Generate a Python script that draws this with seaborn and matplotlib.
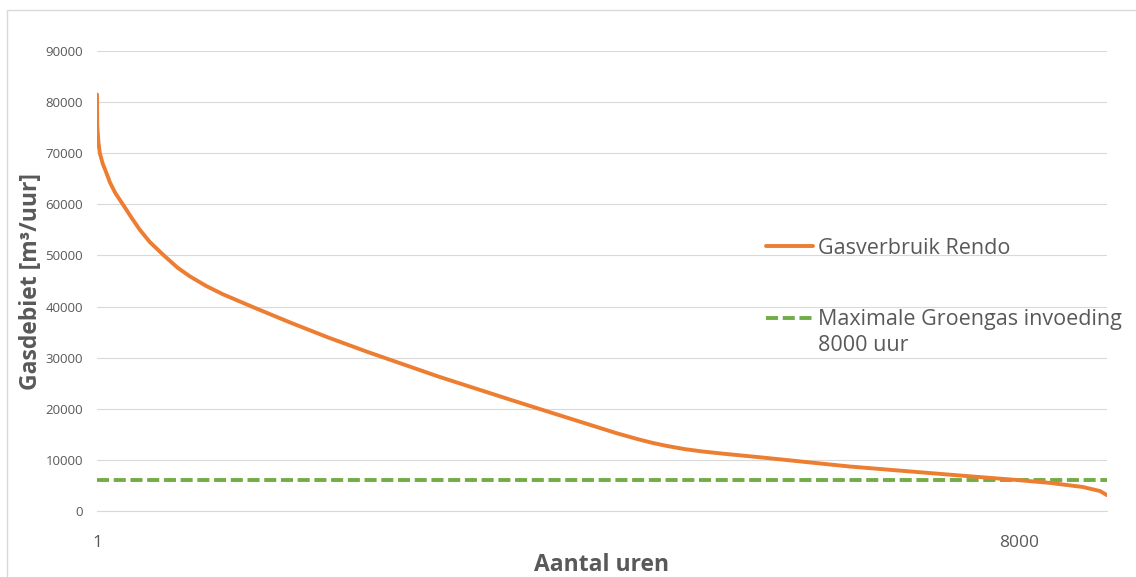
import matplotlib
matplotlib.use('Agg')
import matplotlib.pyplot as plt
from matplotlib.patches import Rectangle
from matplotlib.legend_handler import HandlerLine2D
import numpy as np
import pandas as pd
import seaborn as sns

# duration curve (hour rank -> gas flow m3/h)
hours = [1, 3, 14, 26, 50, 80, 113, 160, 225, 300, 373, 460, 581, 700, 807,
         950, 1093, 1353, 1674, 2000, 2350, 2963, 3582, 3890, 4510, 4700,
         4823, 4950, 5100, 5250, 5437, 5800, 6271, 6530, 6964, 7510, 7960,
         8265, 8550, 8700, 8760]
flow = [81500, 75500, 72000, 70000, 68000, 66300, 64300, 62200, 60000, 57400,
        55000, 52600, 50000, 47600, 45900, 44000, 42400, 39900, 36900, 34000,
        31100, 26300, 21800, 19600, 15200, 14000, 13300, 12700, 12100, 11650,
        11200, 10400, 9300, 8700, 7900, 6900, 6100, 5500, 4700, 3900, 3100]
groengas_max = 6100
series_labels = ['Gasverbruik Rendo', 'Maximale Groengas invoeding\n8000 uur']
y_ticks = list(range(0, 90001, 10000))
x_ticks = [1, 1000, 2000, 3000, 4000, 5000, 6000, 7000, 8000]
x_tick_labels = ['1', '', '', '', '', '', '', '', '8000']


class HandlerLineUp(HandlerLine2D):
    # legend line drawn next to the first line of a two-line label
    def __init__(self, shift, **kw):
        super().__init__(**kw)
        self.shift = shift

    def create_artists(self, legend, orig_handle, xdescent, ydescent, width, height, fontsize, trans):
        arts = super().create_artists(legend, orig_handle, xdescent, ydescent, width, height, fontsize, trans)
        for a in arts:
            a.set_ydata(np.asarray(a.get_ydata()) + self.shift * fontsize)
        return arts


sns.set_style('white')
plt.rcParams['font.family'] = ['Open Sans', 'DejaVu Sans']

df = pd.DataFrame({'Uur': hours, 'Debiet': flow})
ref = pd.DataFrame({'Uur': [1, 8760], 'Debiet': [groengas_max, groengas_max]})

fig = plt.figure(figsize=(11.36, 5.77), dpi=100)
ax = fig.add_axes([97 / 1136, 66 / 577, 1010 / 1136, 460 / 577])

sns.lineplot(data=ref, x='Uur', y='Debiet', ax=ax, color='#70AD47', linewidth=2.8,
             label=series_labels[1])
ax.lines[-1].set_dashes((3.1, 1.2))
sns.lineplot(data=df, x='Uur', y='Debiet', ax=ax, color='#ED7D31', linewidth=2.8,
             label=series_labels[0], sort=False, estimator=None)

ax.set_xlim(1, 8760)
ax.set_ylim(0, 90000)
ax.set_yticks(y_ticks)
ax.set_yticklabels([str(v) for v in y_ticks], fontsize=9.5, color='#595959')
ax.set_xticks(x_ticks)
ax.set_xticklabels(x_tick_labels, fontsize=12.5, color='#595959')
ax.tick_params(axis='x', direction='in', length=4.5, width=0.8, color='#D9D9D9', pad=17)
ax.tick_params(axis='y', length=0, pad=10)
ax.grid(axis='y', color='#D9D9D9', linewidth=0.8)
ax.set_axisbelow(True)
for s in ['top', 'right', 'left']:
    ax.spines[s].set_visible(False)
ax.spines['bottom'].set_color('#D9D9D9')
ax.spines['bottom'].set_linewidth(0.8)

ax.set_xlabel('Aantal uren', fontsize=16.5, fontweight='bold', color='#595959', labelpad=2)
ax.set_ylabel('Gasdebiet [m³/uur]', fontsize=16.5, fontweight='bold', color='#595959', labelpad=2)

handles, labels = ax.get_legend_handles_labels()
leg = ax.legend(handles[::-1], labels[::-1], loc='upper left',
                bbox_to_anchor=((766 - 97) / 1010, (511 - 238) / 460),
                frameon=False, fontsize=15.5, handlelength=2.2, handletextpad=0.2,
                labelspacing=2.3, borderpad=0, borderaxespad=0,
                handler_map={handles[0]: HandlerLineUp(0.7)})
for t in leg.get_texts():
    t.set_color('#595959')
    t.set_linespacing(1.35)

# light outer chart border like the office chart area
fig.patches.append(Rectangle((7 / 1136, -0.1), 1.2, (577 - 10) / 577 + 0.1,
                             transform=fig.transFigure, fill=False,
                             edgecolor='#D9D9D9', linewidth=1))

fig.savefig('out.png', dpi=100, facecolor='white')
